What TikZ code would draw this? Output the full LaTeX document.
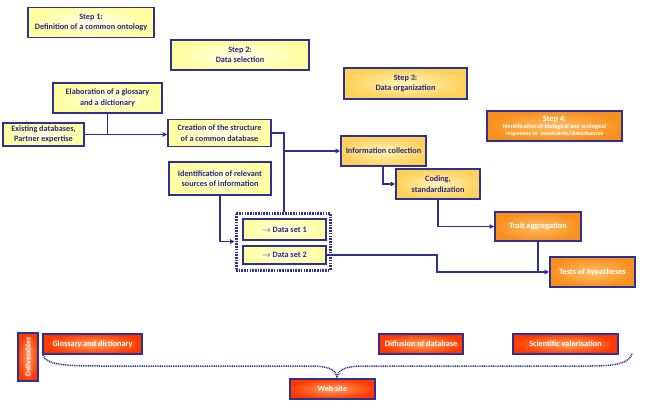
\documentclass[tikz,border=0pt]{standalone}
\usepackage{fontspec}
\setmainfont{Carlito}
\usetikzlibrary{arrows.meta}
\definecolor{navy}{RGB}{46,49,146}
\definecolor{txtblue}{RGB}{40,40,130}
\definecolor{pyin}{HTML}{FFFFE8}
\definecolor{pyout}{HTML}{FFFF9E}
\definecolor{gin}{HTML}{FFF3B8}
\definecolor{gout}{HTML}{FFD15A}
\definecolor{oin}{HTML}{FFBE66}
\definecolor{oout}{HTML}{F7901E}
\definecolor{rin}{HTML}{FFA060}
\definecolor{rout}{HTML}{FF3A00}
\tikzset{
  base/.style={draw=navy, line width=1.8pt, align=center, inner sep=1pt,
    font=\bfseries\fontsize{8.2}{10.5}\selectfont},
  ybox/.style={base, shading=radial, inner color=pyin, outer color=pyout, text=txtblue},
  gbox/.style={base, shading=radial, inner color=gin, outer color=gout, text=txtblue},
  obox/.style={base, shading=radial, inner color=oin, outer color=oout, text=white},
  rbox/.style={base, shading=radial, inner color=rin, outer color=rout, text=white},
  wh/.style 2 args={minimum width=#1pt, minimum height=#2pt},
  conn/.style={draw=navy, line width=1.5pt},
  arr/.style={conn, -{Triangle[length=4.5pt,width=4.5pt]}},
}
\begin{document}
\begin{tikzpicture}[x=1pt,y=-1pt]
\useasboundingbox (0,0) rectangle (652,407);
% steps
\node[ybox, wh={126}{30}] (s1) at (91,22.5) {Step 1:\\Definition of a common ontology};
\node[ybox, wh={138}{30}] (s2) at (240,55) {Step 2:\\Data selection};
\node[gbox, wh={123}{31}] (s3) at (405.5,83.5) {Step 3:\\Data organization};
\node[obox, wh={135}{30}, font=\bfseries\fontsize{6.1}{7}\selectfont] (s4) at (554.5,126)
  {{\fontsize{8.2}{9}\selectfont Step 4:}\\Identification of biological and ecological\\responses to\ \ constraints/disturbances};
% step 2 boxes
\node[ybox, wh={109}{30}] (elab) at (107.5,98) {Elaboration of a glossary\\and a dictionary};
\node[ybox, wh={81}{23}] (exist) at (43.5,134.5) {Existing databases,\\Partner expertise};
\node[ybox, wh={103}{27}] (creat) at (219.5,133) {Creation of the structure\\of a common database};
\node[ybox, wh={102}{33}] (ident) at (220,178.5) {Identification of relevant\\sources of information};
\node[draw=navy, line width=3pt, dash pattern=on 1.6pt off 1.1pt, wh={94}{57}] (dbox) at (283,241.5) {};
\node[ybox, wh={83}{21}] (ds1) at (284.5,229.5) {$\rightarrow$ Data set 1};
\node[ybox, wh={83}{18}] (ds2) at (284.5,255) {$\rightarrow$ Data set 2};
% step 3 boxes
\node[gbox, wh={85}{30}] (info) at (383.5,151) {Information collection};
\node[gbox, wh={84}{30}] (cod) at (438,184) {Coding,\\standardization};
% step 4 boxes
\node[obox, wh={86}{29}] (trait) at (538,226.5) {Trait aggregation};
\node[obox, wh={85}{30}] (tests) at (592.5,272) {Tests of hypotheses};
% deliverables
\node[rbox, wh={48}{20}, rotate=90, font=\bfseries\fontsize{7.8}{8}\selectfont] (deliv) at (28,357) {Deliverables};
\node[rbox, wh={99}{20}] (glos) at (92.5,344) {Glossary and dictionary};
\node[rbox, wh={84}{20}] (diff) at (421,344) {Diffusion of database};
\node[rbox, wh={105}{20}] (sci) at (565.5,344) {Scientific valorisation};
\node[rbox, wh={85}{20}] (web) at (332.5,389) {Web site};
% connectors
\draw[conn] (elab.south) -- (elab.south |- exist.east);
\draw[arr] (exist.east) -- (creat.west |- exist.east);
\coordinate (j1) at (284,151);
\draw[conn] (creat.east) -| (j1) -- (j1 |- dbox.north);
\draw[arr] (j1) -- (info.west);
\draw[arr] (ident.south) |- (dbox.west);
\draw[arr] (info.south -| 383,0) |- (cod.west);
\draw[arr] (cod.south) |- (trait.west);
\coordinate (j2) at (437,255);
\draw[arr] (ds2.east) -- (j2) |- (tests.west);
\draw[conn] (trait.south) -- (trait.south |- tests.west);
% brace
\coordinate (bl) at (43,355);
\coordinate (br) at (632,353);
\coordinate (bt) at (337,378);
\draw[navy, line width=1.5pt, dash pattern=on 1pt off 0.8pt] (bl) .. controls (46,366) and (70,366) .. (110,366)
  -- (310,366) .. controls (330,366) and (336,370) .. (bt)
  .. controls (338,370) and (344,366) .. (364,366)
  -- (590,366) .. controls (620,366) and (630,362) .. (br);
\end{tikzpicture}
\end{document}
